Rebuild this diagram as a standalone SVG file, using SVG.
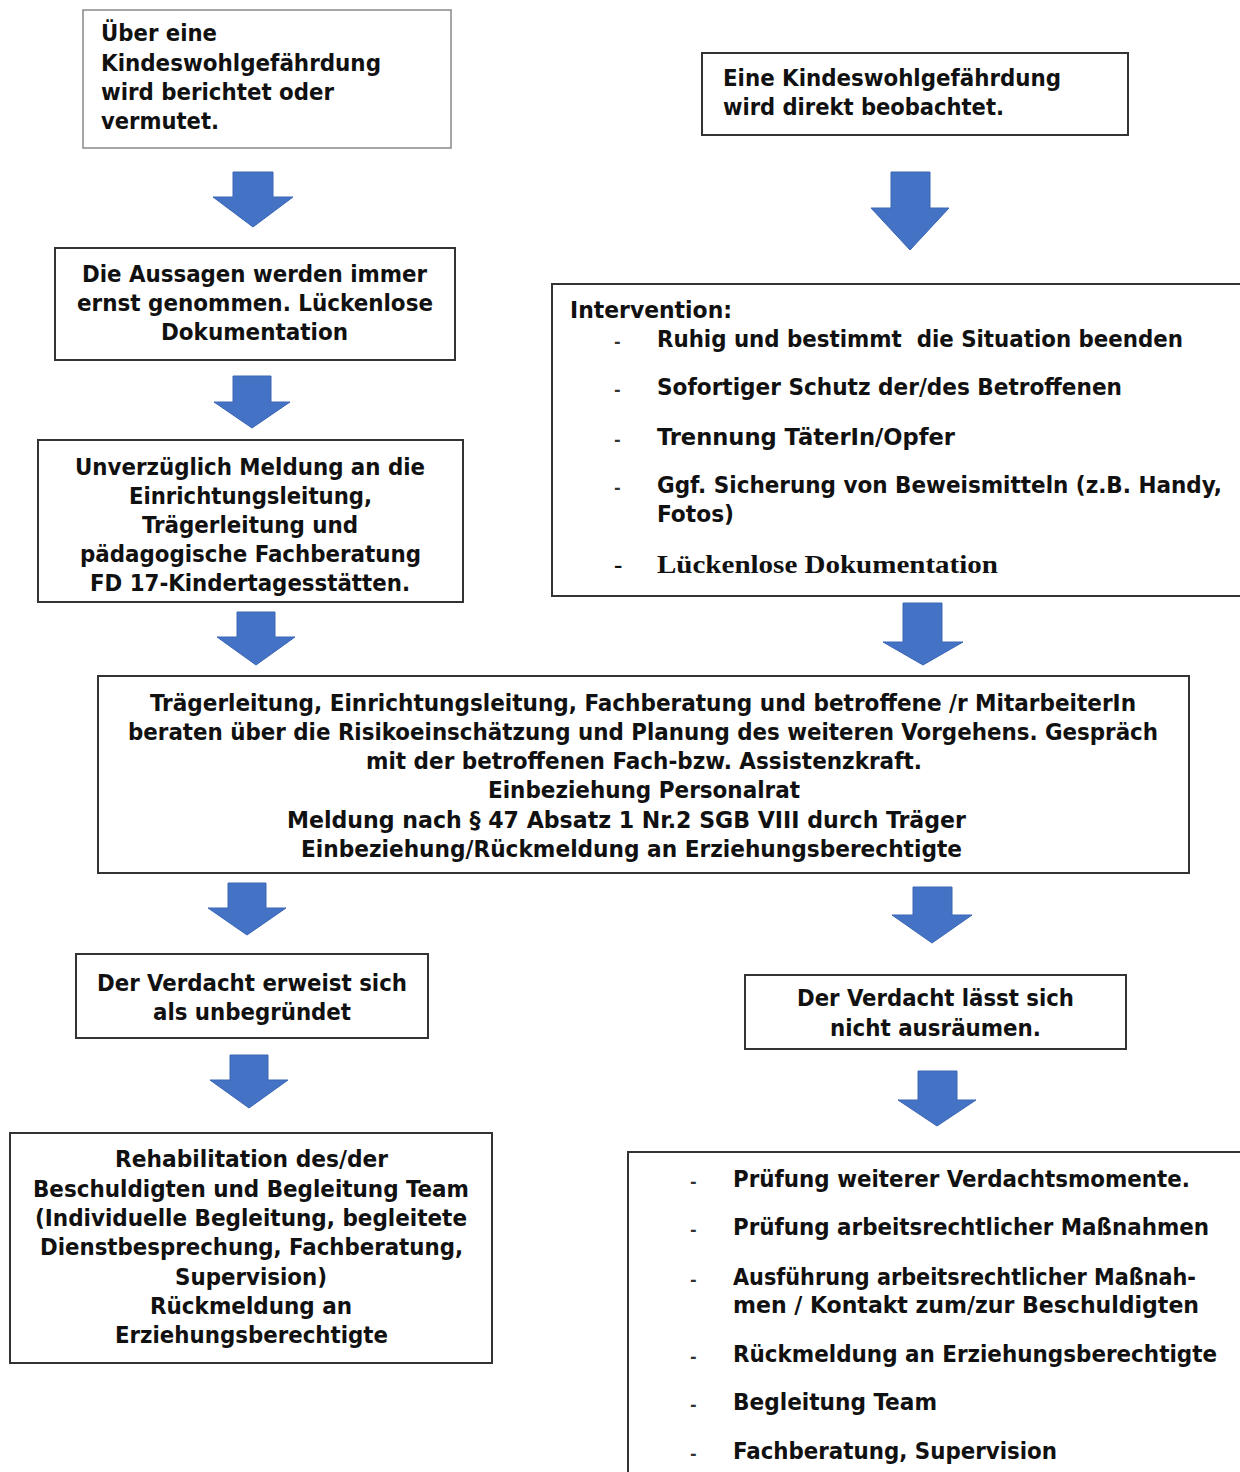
<svg xmlns="http://www.w3.org/2000/svg" width="1240" height="1472" viewBox="0 0 1240 1472">
<style>
.box{fill:#fff;stroke:#333;stroke-width:2}
.lite{stroke:#888;stroke-width:1.5}
.t{font-family:"DejaVu Sans Condensed","DejaVu Sans",sans-serif;font-weight:bold;font-size:23px;fill:#111}
.s{font-family:"Liberation Serif","Times New Roman",serif;font-weight:bold;font-size:25px;fill:#111}
.b{font-family:"DejaVu Sans",sans-serif;font-weight:bold;font-size:16px;fill:#333}
.arr{fill:#4472C4;stroke:#3A66B5;stroke-width:1}
</style>
<rect width="1240" height="1472" fill="#fff"/>
<g id="connectors">
<path class="arr" d="M233,172 H273 V197 H293 L253,227 L213,197 H233 Z"/>
<path class="arr" d="M891,172 H930 V208 H949 L910,250 L871,208 H891 Z"/>
<path class="arr" d="M233,376 H271 V402 H290 L252,428 L214,402 H233 Z"/>
<path class="arr" d="M237,612 H275 V637 H295 L256,665 L217,637 H237 Z"/>
<path class="arr" d="M903,603 H942 V642 H963 L923,665 L883,642 H903 Z"/>
<path class="arr" d="M228,883 H266 V908 H286 L247,935 L208,908 H228 Z"/>
<path class="arr" d="M913,887 H952 V915 H972 L932,943 L892,915 H913 Z"/>
<path class="arr" d="M230,1055 H268 V1080 H288 L249,1108 L210,1080 H230 Z"/>
<path class="arr" d="M918,1071 H957 V1100 H976 L937,1126 L898,1100 H918 Z"/>
</g>
<g id="n1">
<rect class="box lite" x="83" y="10" width="368" height="138"/>
<text class="t" x="101" y="41" textLength="116" lengthAdjust="spacingAndGlyphs">Über eine</text>
<text class="t" x="101" y="71" textLength="280" lengthAdjust="spacingAndGlyphs">Kindeswohlgefährdung</text>
<text class="t" x="101" y="100" textLength="233" lengthAdjust="spacingAndGlyphs">wird berichtet oder</text>
<text class="t" x="101" y="129" textLength="118" lengthAdjust="spacingAndGlyphs">vermutet.</text>
</g>
<g id="n2">
<rect class="box" x="702" y="53" width="426" height="82"/>
<text class="t" x="723" y="86" textLength="338" lengthAdjust="spacingAndGlyphs">Eine Kindeswohlgefährdung</text>
<text class="t" x="723" y="115" textLength="281" lengthAdjust="spacingAndGlyphs">wird direkt beobachtet.</text>
</g>
<g id="n3">
<rect class="box" x="55" y="248" width="400" height="112"/>
<text class="t" x="82" y="282" textLength="345" lengthAdjust="spacingAndGlyphs">Die Aussagen werden immer</text>
<text class="t" x="77" y="311" textLength="356" lengthAdjust="spacingAndGlyphs">ernst genommen. Lückenlose</text>
<text class="t" x="161" y="340" textLength="187" lengthAdjust="spacingAndGlyphs">Dokumentation</text>
</g>
<g id="n4">
<rect class="box" x="38" y="440" width="425" height="162"/>
<text class="t" x="75" y="475" textLength="350" lengthAdjust="spacingAndGlyphs">Unverzüglich Meldung an die</text>
<text class="t" x="129" y="504" textLength="243" lengthAdjust="spacingAndGlyphs">Einrichtungsleitung,</text>
<text class="t" x="142" y="533" textLength="216" lengthAdjust="spacingAndGlyphs">Trägerleitung und</text>
<text class="t" x="80" y="562" textLength="341" lengthAdjust="spacingAndGlyphs">pädagogische Fachberatung</text>
<text class="t" x="90" y="591" textLength="320" lengthAdjust="spacingAndGlyphs">FD 17-Kindertagesstätten.</text>
</g>
<g id="n5">
<rect class="box" x="552" y="284" width="700" height="312"/>
<text class="t" x="570" y="318" textLength="162" lengthAdjust="spacingAndGlyphs">Intervention:</text>
<text class="b" x="614" y="347">-</text>
<text class="t" x="657" y="347" textLength="526" lengthAdjust="spacingAndGlyphs" xml:space="preserve">Ruhig und bestimmt  die Situation beenden</text>
<text class="b" x="614" y="395">-</text>
<text class="t" x="657" y="395" textLength="465" lengthAdjust="spacingAndGlyphs">Sofortiger Schutz der/des Betroffenen</text>
<text class="b" x="614" y="445">-</text>
<text class="t" x="657" y="445" textLength="298" lengthAdjust="spacingAndGlyphs">Trennung TäterIn/Opfer</text>
<text class="b" x="614" y="493">-</text>
<text class="t" x="657" y="493" textLength="565" lengthAdjust="spacingAndGlyphs">Ggf. Sicherung von Beweismitteln (z.B. Handy,</text>
<text class="t" x="657" y="522" textLength="77" lengthAdjust="spacingAndGlyphs">Fotos)</text>
<text class="s" x="614" y="573">-</text>
<text class="s" x="657" y="573" textLength="341" lengthAdjust="spacingAndGlyphs">Lückenlose Dokumentation</text>
</g>
<g id="n6">
<rect class="box" x="98" y="676" width="1091" height="197"/>
<text class="t" x="150" y="711" textLength="986" lengthAdjust="spacingAndGlyphs">Trägerleitung, Einrichtungsleitung, Fachberatung und betroffene /r MitarbeiterIn</text>
<text class="t" x="128" y="740" textLength="1030" lengthAdjust="spacingAndGlyphs">beraten über die Risikoeinschätzung und Planung des weiteren Vorgehens. Gespräch</text>
<text class="t" x="366" y="769" textLength="556" lengthAdjust="spacingAndGlyphs">mit der betroffenen Fach-bzw. Assistenzkraft.</text>
<text class="t" x="488" y="798" textLength="312" lengthAdjust="spacingAndGlyphs">Einbeziehung Personalrat</text>
<text class="t" x="287" y="828" textLength="679" lengthAdjust="spacingAndGlyphs">Meldung nach § 47 Absatz 1 Nr.2 SGB VIII durch Träger</text>
<text class="t" x="301" y="857" textLength="661" lengthAdjust="spacingAndGlyphs">Einbeziehung/Rückmeldung an Erziehungsberechtigte</text>
</g>
<g id="n7">
<rect class="box" x="76" y="954" width="352" height="84"/>
<text class="t" x="97" y="991" textLength="310" lengthAdjust="spacingAndGlyphs">Der Verdacht erweist sich</text>
<text class="t" x="153" y="1020" textLength="198" lengthAdjust="spacingAndGlyphs">als unbegründet</text>
</g>
<g id="n8">
<rect class="box" x="745" y="975" width="381" height="74"/>
<text class="t" x="797" y="1006" textLength="277" lengthAdjust="spacingAndGlyphs">Der Verdacht lässt sich</text>
<text class="t" x="830" y="1036" textLength="211" lengthAdjust="spacingAndGlyphs">nicht ausräumen.</text>
</g>
<g id="n9">
<rect class="box" x="10" y="1133" width="482" height="230"/>
<text class="t" x="115" y="1167" textLength="273" lengthAdjust="spacingAndGlyphs">Rehabilitation des/der</text>
<text class="t" x="33" y="1197" textLength="436" lengthAdjust="spacingAndGlyphs">Beschuldigten und Begleitung Team</text>
<text class="t" x="35" y="1226" textLength="432" lengthAdjust="spacingAndGlyphs">(Individuelle Begleitung, begleitete</text>
<text class="t" x="40" y="1255" textLength="423" lengthAdjust="spacingAndGlyphs">Dienstbesprechung, Fachberatung,</text>
<text class="t" x="175" y="1285" textLength="152" lengthAdjust="spacingAndGlyphs">Supervision)</text>
<text class="t" x="150" y="1314" textLength="202" lengthAdjust="spacingAndGlyphs">Rückmeldung an</text>
<text class="t" x="115" y="1343" textLength="273" lengthAdjust="spacingAndGlyphs">Erziehungsberechtigte</text>
</g>
<g id="n10">
<rect class="box" x="628" y="1152" width="700" height="400"/>
<text class="b" x="690" y="1187">-</text>
<text class="t" x="733" y="1187" textLength="457" lengthAdjust="spacingAndGlyphs">Prüfung weiterer Verdachtsmomente.</text>
<text class="b" x="690" y="1235">-</text>
<text class="t" x="733" y="1235" textLength="476" lengthAdjust="spacingAndGlyphs">Prüfung arbeitsrechtlicher Maßnahmen</text>
<text class="b" x="690" y="1285">-</text>
<text class="t" x="733" y="1285" textLength="463" lengthAdjust="spacingAndGlyphs">Ausführung arbeitsrechtlicher Maßnah-</text>
<text class="t" x="733" y="1313" textLength="466" lengthAdjust="spacingAndGlyphs">men / Kontakt zum/zur Beschuldigten</text>
<text class="b" x="690" y="1362">-</text>
<text class="t" x="733" y="1362" textLength="484" lengthAdjust="spacingAndGlyphs">Rückmeldung an Erziehungsberechtigte</text>
<text class="b" x="690" y="1410">-</text>
<text class="t" x="733" y="1410" textLength="204" lengthAdjust="spacingAndGlyphs">Begleitung Team</text>
<text class="b" x="690" y="1459">-</text>
<text class="t" x="733" y="1459" textLength="324" lengthAdjust="spacingAndGlyphs">Fachberatung, Supervision</text>
</g>
</svg>
